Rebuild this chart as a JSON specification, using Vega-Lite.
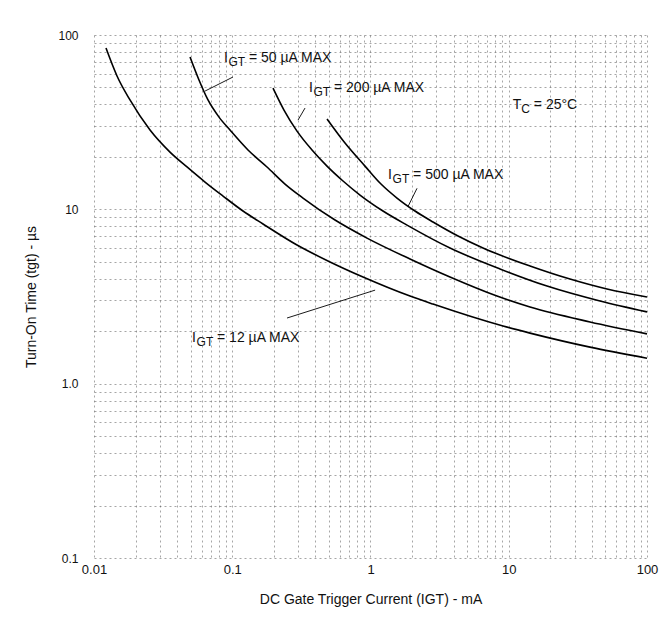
{
  "$schema": "https://vega.github.io/schema/vega-lite/v6.json",
  "width": 553,
  "height": 523,
  "autosize": {"type": "none"},
  "padding": {"left": 94, "top": 35, "right": 23, "bottom": 83},
  "background": "white",
  "config": {"view": {"stroke": null}, "font": "Liberation Sans"},
  "datasets": {
    "curves": [
      {"curve": "12 µA", "igt": 0.01221, "t": 84.2},
      {"curve": "12 µA", "igt": 0.01467, "t": 58.2},
      {"curve": "12 µA", "igt": 0.01821, "t": 42.4},
      {"curve": "12 µA", "igt": 0.02542, "t": 28.5},
      {"curve": "12 µA", "igt": 0.03545, "t": 21.3},
      {"curve": "12 µA", "igt": 0.04707, "t": 17.5},
      {"curve": "12 µA", "igt": 0.06353, "t": 14.34},
      {"curve": "12 µA", "igt": 0.08573, "t": 11.92},
      {"curve": "12 µA", "igt": 0.1196, "t": 9.78},
      {"curve": "12 µA", "igt": 0.1669, "t": 8.24},
      {"curve": "12 µA", "igt": 0.294, "t": 6.24},
      {"curve": "12 µA", "igt": 0.5095, "t": 4.99},
      {"curve": "12 µA", "igt": 0.8828, "t": 4.09},
      {"curve": "12 µA", "igt": 1.931, "t": 3.18},
      {"curve": "12 µA", "igt": 2.832, "t": 2.86},
      {"curve": "12 µA", "igt": 9.087, "t": 2.14},
      {"curve": "12 µA", "igt": 14.25, "t": 1.95},
      {"curve": "12 µA", "igt": 38.7, "t": 1.62},
      {"curve": "12 µA", "igt": 100, "t": 1.4},
      {"curve": "50 µA", "igt": 0.04949, "t": 74.8},
      {"curve": "50 µA", "igt": 0.05747, "t": 55.2},
      {"curve": "50 µA", "igt": 0.06677, "t": 42.4},
      {"curve": "50 µA", "igt": 0.08021, "t": 33.8},
      {"curve": "50 µA", "igt": 0.09632, "t": 28.5},
      {"curve": "50 µA", "igt": 0.13, "t": 21.9},
      {"curve": "50 µA", "igt": 0.1784, "t": 17.5},
      {"curve": "50 µA", "igt": 0.2408, "t": 13.97},
      {"curve": "50 µA", "igt": 0.3249, "t": 11.61},
      {"curve": "50 µA", "igt": 0.5537, "t": 8.68},
      {"curve": "50 µA", "igt": 0.9434, "t": 6.84},
      {"curve": "50 µA", "igt": 1.931, "t": 5.19},
      {"curve": "50 µA", "igt": 3.758, "t": 4.09},
      {"curve": "50 µA", "igt": 8.222, "t": 3.18},
      {"curve": "50 µA", "igt": 14.25, "t": 2.75},
      {"curve": "50 µA", "igt": 38.7, "t": 2.26},
      {"curve": "50 µA", "igt": 100, "t": 1.93},
      {"curve": "200 µA", "igt": 0.1971, "t": 49.6},
      {"curve": "200 µA", "igt": 0.2367, "t": 37.1},
      {"curve": "200 µA", "igt": 0.294, "t": 28.1},
      {"curve": "200 µA", "igt": 0.3776, "t": 21.9},
      {"curve": "200 µA", "igt": 0.4846, "t": 17.7},
      {"curve": "200 µA", "igt": 0.6327, "t": 14.54},
      {"curve": "200 µA", "igt": 0.8396, "t": 12.08},
      {"curve": "200 µA", "igt": 1.231, "t": 9.78},
      {"curve": "200 µA", "igt": 1.837, "t": 8.12},
      {"curve": "200 µA", "igt": 3.758, "t": 6.0},
      {"curve": "200 µA", "igt": 8.643, "t": 4.55},
      {"curve": "200 µA", "igt": 18.91, "t": 3.63},
      {"curve": "200 µA", "igt": 45.71, "t": 2.98},
      {"curve": "200 µA", "igt": 100, "t": 2.58},
      {"curve": "500 µA", "igt": 0.4846, "t": 33.0},
      {"curve": "500 µA", "igt": 0.654, "t": 24.0},
      {"curve": "500 µA", "igt": 0.9125, "t": 17.7},
      {"curve": "500 µA", "igt": 1.191, "t": 13.97},
      {"curve": "500 µA", "igt": 1.555, "t": 11.61},
      {"curve": "500 µA", "igt": 2.098, "t": 9.78},
      {"curve": "500 µA", "igt": 2.832, "t": 8.46},
      {"curve": "500 µA", "igt": 4.295, "t": 7.03},
      {"curve": "500 µA", "igt": 6.512, "t": 6.0},
      {"curve": "500 µA", "igt": 14.25, "t": 4.73},
      {"curve": "500 µA", "igt": 27.73, "t": 3.98},
      {"curve": "500 µA", "igt": 51.37, "t": 3.49},
      {"curve": "500 µA", "igt": 100, "t": 3.14}
    ],
    "leaders": [
      {"x1": 0.0636, "y1": 47.7, "x2": 0.1012, "y2": 57.4},
      {"x1": 0.299, "y1": 32.5, "x2": 0.336, "y2": 38.1},
      {"x1": 1.87, "y1": 10.4, "x2": 2.17, "y2": 13.2},
      {"x1": 0.249, "y1": 2.38, "x2": 1.08, "y2": 3.44}
    ],
    "labels": [
      {"kind": "I", "sym": "I", "sub": "GT", "rest": "= 50 µA MAX", "x": 0.0871, "y": 73.8},
      {"kind": "I", "sym": "I", "sub": "GT", "rest": "= 200 µA MAX", "x": 0.359, "y": 49.6},
      {"kind": "I", "sym": "I", "sub": "GT", "rest": "= 500 µA MAX", "x": 1.34, "y": 15.7},
      {"kind": "I", "sym": "I", "sub": "GT", "rest": "= 12 µA MAX", "x": 0.0512, "y": 1.83},
      {"kind": "T", "sym": "T", "sub": "C", "rest": "= 25°C", "x": 10.7, "y": 39.6}
    ]
  },
  "layer": [
    {
      "data": {"name": "curves"},
      "mark": {"type": "line", "color": "black", "strokeWidth": 1.6, "interpolate": "monotone"},
      "encoding": {
        "x": {
          "field": "igt", "type": "quantitative",
          "scale": {"type": "log", "domain": [0.01, 100], "nice": false},
          "axis": {
            "title": "DC Gate Trigger Current (IGT) - mA",
            "values": [0.01,0.02,0.03,0.04,0.05,0.06,0.07,0.08,0.09,0.1,0.2,0.3,0.4,0.5,0.6,0.7,0.8,0.9,1,2,3,4,5,6,7,8,9,10,20,30,40,50,60,70,80,90,100],
            "labelExpr": "datum.value == 0.01 ? '0.01' : datum.value == 0.1 ? '0.1' : datum.value == 1 ? '1' : datum.value == 10 ? '10' : datum.value == 100 ? '100' : ''",
            "labelFlush": false, "labelOverlap": false,
            "ticks": false, "domain": false, "labelPadding": 5,
            "labelFontSize": 13, "labelColor": "#111",
            "titleFontSize": 14, "titleFontWeight": "normal", "titleColor": "#111", "titlePadding": 16,
            "grid": true, "gridColor": "#444", "gridDash": [2, 3], "gridWidth": 0.8, "gridOpacity": 0.6
          }
        },
        "y": {
          "field": "t", "type": "quantitative",
          "scale": {"type": "log", "domain": [0.1, 100], "nice": false},
          "axis": {
            "title": "Turn-On Time (tgt) - µs",
            "values": [0.1,0.2,0.3,0.4,0.5,0.6,0.7,0.8,0.9,1,2,3,4,5,6,7,8,9,10,20,30,40,50,60,70,80,90,100],
            "labelExpr": "datum.value == 0.1 ? '0.1' : datum.value == 1 ? '1.0' : datum.value == 10 ? '10' : datum.value == 100 ? '100' : ''",
            "labelFlush": false, "labelOverlap": false,
            "ticks": false, "domain": false, "labelPadding": 16,
            "labelFontSize": 12, "labelColor": "#111",
            "titleFontSize": 14, "titleFontWeight": "normal", "titleColor": "#111", "titlePadding": 19,
            "grid": true, "gridColor": "#444", "gridDash": [2, 3], "gridWidth": 0.8, "gridOpacity": 0.6
          }
        },
        "detail": {"field": "curve"}
      }
    },
    {
      "data": {"name": "leaders"},
      "mark": {"type": "rule", "color": "black", "strokeWidth": 0.9},
      "encoding": {
        "x": {"field": "x1", "type": "quantitative"},
        "y": {"field": "y1", "type": "quantitative"},
        "x2": {"field": "x2"},
        "y2": {"field": "y2"}
      }
    },
    {
      "data": {"name": "labels"},
      "mark": {"type": "text", "align": "left", "baseline": "middle", "fontSize": 14, "color": "#111"},
      "encoding": {
        "x": {"field": "x", "type": "quantitative"},
        "y": {"field": "y", "type": "quantitative"},
        "text": {"field": "sym"}
      }
    },
    {
      "data": {"name": "labels"},
      "transform": [{"filter": "datum.kind == 'I'"}],
      "mark": {"type": "text", "align": "left", "baseline": "middle", "fontSize": 12, "dx": 4.5, "dy": 4, "color": "#111"},
      "encoding": {
        "x": {"field": "x", "type": "quantitative"},
        "y": {"field": "y", "type": "quantitative"},
        "text": {"field": "sub"}
      }
    },
    {
      "data": {"name": "labels"},
      "transform": [{"filter": "datum.kind == 'I'"}],
      "mark": {"type": "text", "align": "left", "baseline": "middle", "fontSize": 14, "dx": 25, "color": "#111"},
      "encoding": {
        "x": {"field": "x", "type": "quantitative"},
        "y": {"field": "y", "type": "quantitative"},
        "text": {"field": "rest"}
      }
    },
    {
      "data": {"name": "labels"},
      "transform": [{"filter": "datum.kind == 'T'"}],
      "mark": {"type": "text", "align": "left", "baseline": "middle", "fontSize": 12, "dx": 8.5, "dy": 4, "color": "#111"},
      "encoding": {
        "x": {"field": "x", "type": "quantitative"},
        "y": {"field": "y", "type": "quantitative"},
        "text": {"field": "sub"}
      }
    },
    {
      "data": {"name": "labels"},
      "transform": [{"filter": "datum.kind == 'T'"}],
      "mark": {"type": "text", "align": "left", "baseline": "middle", "fontSize": 14, "dx": 21, "color": "#111"},
      "encoding": {
        "x": {"field": "x", "type": "quantitative"},
        "y": {"field": "y", "type": "quantitative"},
        "text": {"field": "rest"}
      }
    }
  ]
}
